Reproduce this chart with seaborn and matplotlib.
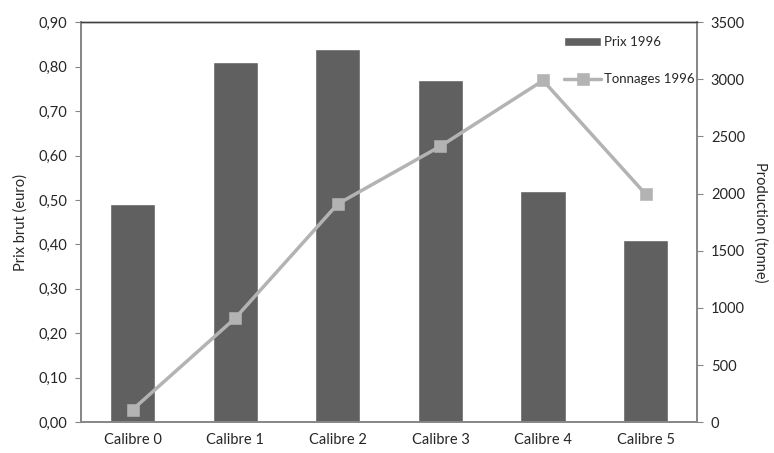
import numpy as np
import matplotlib
matplotlib.use('Agg')
import matplotlib.pyplot as plt
import pandas as pd
import seaborn as sns
from matplotlib.ticker import FuncFormatter

# data
calibres = ['Calibre 0', 'Calibre 1', 'Calibre 2', 'Calibre 3', 'Calibre 4', 'Calibre 5']
prix_1996 = [0.49, 0.81, 0.84, 0.77, 0.52, 0.41]
tonnages_1996 = [110, 910, 1910, 2415, 2990, 1995]

df = pd.DataFrame({'calibre': calibres, 'prix': prix_1996, 'tonnage': tonnages_1996})

sns.set_style('white')
plt.rcParams['font.family'] = ['Lato', 'DejaVu Sans']
plt.rcParams['font.size'] = 10.5

fig = plt.figure(figsize=(7.74, 4.53), dpi=100)
ax = fig.add_axes([0.105, 0.068, 0.7955, 0.883])

sns.barplot(data=df, x='calibre', y='prix', color='#606060', saturation=1,
            width=0.44, ax=ax, label='Prix 1996')
ax.set_ylim(0, 0.9)
ax.set_yticks(np.arange(0, 0.91, 0.1))
ax.yaxis.set_major_formatter(FuncFormatter(lambda v, p: f'{v:.2f}'.replace('.', ',')))
ax.set_xlabel('')
ax.set_ylabel('Prix brut (euro)', fontsize=10.5, labelpad=8)
ax.tick_params(axis='y', length=4, color='#868686', direction='out', left=True,
               labelsize=10.5, pad=6)
ax.tick_params(axis='x', length=0, labelsize=10.5, pad=8)

ax2 = ax.twinx()
sns.pointplot(data=df, x='calibre', y='tonnage', color='#b3b3b3', markers='s',
              markersize=7, linewidth=2.5, ax=ax2, label='Tonnages 1996')
ax2.set_ylim(0, 3500)
ax2.set_yticks(np.arange(0, 3501, 500))
ax2.set_ylabel('Production (tonne)', rotation=270, labelpad=16, fontsize=10.5)
ax2.tick_params(axis='y', length=4, color='#868686', direction='out', right=True,
                labelsize=10.5, pad=6)
ax2.set_xlim(-0.5, 5.5)

for a in (ax, ax2):
    for s in a.spines.values():
        s.set_color('#868686')
        s.set_linewidth(1.2)
    a.spines['top'].set_color('#404040')
    a.spines['top'].set_linewidth(1.0)

h1, l1 = ax.get_legend_handles_labels()
h2, l2 = ax2.get_legend_handles_labels()
if ax.get_legend():
    ax.get_legend().remove()
leg = ax2.legend(h1 + h2, ['Prix 1996', 'Tonnages 1996'], loc='upper right',
                 bbox_to_anchor=(1.015, 0.995), frameon=False, fontsize=9.5,
                 handlelength=2.8, handletextpad=0.2, labelspacing=1.9)

fig.savefig('out.png', dpi=100)
